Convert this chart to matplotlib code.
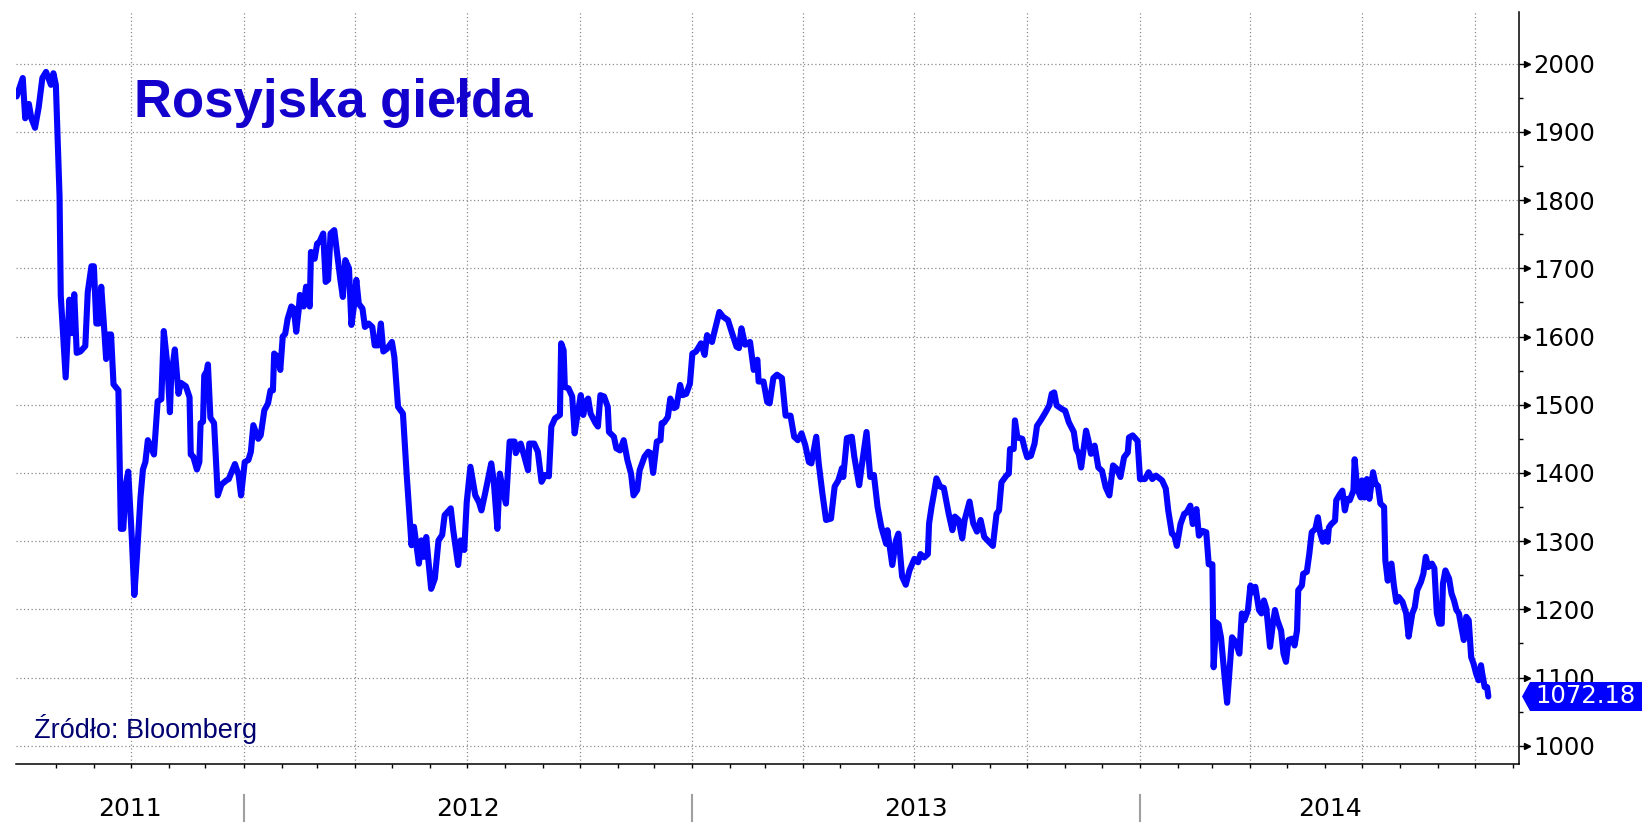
import numpy as np
import pandas as pd
import matplotlib
matplotlib.use('Agg')
import matplotlib.pyplot as plt
import matplotlib.dates as mdates
from matplotlib.patches import Polygon
from matplotlib.ticker import FixedLocator
from matplotlib.transforms import IdentityTransform, ScaledTranslation

# RTS index (month-day per year)
days_2011 = ['06-30', '07-05', '07-07', '07-10', '07-12', '07-15', '07-18', '07-21', '07-24', '07-28',
             '07-30', '08-01', '08-04', '08-05', '08-09', '08-12', '08-14', '08-16', '08-18', '08-21',
             '08-25', '08-27', '08-30', '09-01', '09-03', '09-05', '09-07', '09-09', '09-11', '09-13',
             '09-15', '09-17', '09-21', '09-23', '09-25', '09-27', '09-29', '10-02', '10-04', '10-06',
             '10-09', '10-11', '10-13', '10-15', '10-17', '10-20', '10-23', '10-26', '10-28', '10-31',
             '11-02', '11-03', '11-06', '11-09', '11-11', '11-15', '11-18', '11-19', '11-21', '11-24',
             '11-26', '11-27', '11-29', '11-30', '12-02', '12-03', '12-05', '12-08', '12-11', '12-14',
             '12-18', '12-20', '12-22', '12-25', '12-28', '12-30']
rts_2011 = [1952, 1979, 1920, 1941, 1920, 1906, 1936, 1979, 1988, 1969,
            1986, 1969, 1806, 1660, 1540, 1654, 1605, 1662, 1576, 1578,
            1586, 1665, 1703, 1703, 1619, 1619, 1673, 1622, 1567, 1603,
            1603, 1530, 1521, 1318, 1318, 1383, 1402, 1302, 1221, 1275,
            1364, 1405, 1416, 1448, 1440, 1427, 1505, 1508, 1608, 1557,
            1489, 1540, 1581, 1516, 1532, 1527, 1511, 1427, 1424, 1405,
            1416, 1473, 1475, 1543, 1549, 1559, 1481, 1473, 1367, 1383,
            1389, 1391, 1400, 1413, 1397, 1367]

days_2012 = ['01-02', '01-05', '01-07', '01-09', '01-13', '01-15', '01-18', '01-21', '01-23', '01-25',
             '01-26', '01-29', '01-31', '02-02', '02-04', '02-06', '02-09', '02-11', '02-13', '02-15',
             '02-16', '02-19', '02-21', '02-24', '02-25', '02-28', '03-01', '03-03', '03-06', '03-08',
             '03-10', '03-12', '03-15', '03-17', '03-20', '03-22', '03-24', '03-27', '03-29', '03-31',
             '04-02', '04-04', '04-07', '04-09', '04-12', '04-15', '04-17', '04-20', '04-22', '04-24',
             '04-27', '05-01', '05-03', '05-06', '05-10', '05-13', '05-17', '05-19', '05-21', '05-23',
             '05-25', '05-27', '05-29', '05-31', '06-02', '06-05', '06-08', '06-11', '06-13', '06-18',
             '06-20', '06-24', '06-26', '06-29', '07-01', '07-04', '07-08', '07-11', '07-13', '07-16',
             '07-21', '07-23', '07-26', '07-28', '07-31', '08-02', '08-05', '08-09', '08-10', '08-14',
             '08-17', '08-20', '08-21', '08-25', '08-28', '08-31', '09-03', '09-06', '09-08', '09-11',
             '09-15', '09-16', '09-18', '09-19', '09-22', '09-25', '09-27', '09-29', '10-02', '10-04',
             '10-06', '10-08', '10-10', '10-14', '10-16', '10-18', '10-21', '10-24', '10-25', '10-29',
             '10-31', '11-03', '11-06', '11-09', '11-12', '11-14', '11-17', '11-19', '11-23', '11-26',
             '11-28', '11-30', '12-03', '12-06', '12-07', '12-09', '12-12', '12-14', '12-17', '12-19',
             '12-22', '12-24', '12-27', '12-30']
rts_2012 = [1416, 1419, 1431, 1470, 1450, 1455, 1492, 1502, 1521, 1521,
            1575, 1570, 1551, 1600, 1604, 1626, 1644, 1641, 1607, 1639,
            1661, 1644, 1673, 1644, 1724, 1714, 1736, 1739, 1751, 1680,
            1683, 1751, 1756, 1727, 1683, 1658, 1712, 1700, 1617, 1644,
            1683, 1648, 1641, 1614, 1619, 1614, 1587, 1587, 1619, 1578,
            1582, 1592, 1570, 1497, 1487, 1399, 1294, 1321, 1294, 1267,
            1301, 1277, 1306, 1267, 1230, 1245, 1301, 1309, 1338, 1348,
            1316, 1265, 1301, 1287, 1357, 1409, 1367, 1357, 1345, 1370,
            1414, 1389, 1318, 1399, 1370, 1355, 1446, 1446, 1429, 1443,
            1424, 1404, 1443, 1443, 1431, 1387, 1397, 1395, 1468, 1480,
            1485, 1590, 1580, 1526, 1524, 1512, 1458, 1482, 1514, 1485,
            1504, 1509, 1487, 1473, 1468, 1514, 1512, 1497, 1460, 1453,
            1436, 1433, 1448, 1419, 1399, 1367, 1375, 1404, 1424, 1431,
            1429, 1400, 1446, 1448, 1473, 1474, 1482, 1509, 1495, 1497,
            1529, 1514, 1516, 1531]

days_2013 = ['01-01', '01-04', '01-08', '01-11', '01-13', '01-17', '01-19', '01-23', '01-26', '01-30',
             '02-02', '02-06', '02-08', '02-10', '02-13', '02-17', '02-20', '02-23', '02-24', '02-28',
             '03-03', '03-05', '03-08', '03-11', '03-15', '03-18', '03-22', '03-25', '03-28', '03-31',
             '04-03', '04-06', '04-08', '04-12', '04-14', '04-17', '04-20', '04-24', '04-27', '04-30',
             '05-03', '05-04', '05-07', '05-11', '05-13', '05-17', '05-19', '05-23', '05-26', '05-29',
             '06-01', '06-04', '06-08', '06-09', '06-13', '06-16', '06-18', '06-21', '06-24', '06-27',
             '07-01', '07-04', '07-06', '07-09', '07-12', '07-13', '07-15', '07-17', '07-19', '07-22',
             '07-25', '07-29', '08-01', '08-03', '08-06', '08-09', '08-11', '08-15', '08-18', '08-21',
             '08-24', '08-27', '09-03', '09-06', '09-08', '09-10', '09-14', '09-16', '09-17', '09-20',
             '09-21', '09-23', '09-27', '09-29', '10-01', '10-04', '10-07', '10-09', '10-12', '10-16',
             '10-19', '10-21', '10-23', '10-25', '10-29', '11-01', '11-04', '11-06', '11-08', '11-10',
             '11-12', '11-14', '11-18', '11-20', '11-22', '11-25', '11-28', '12-01', '12-04', '12-07',
             '12-10', '12-13', '12-16', '12-19', '12-22', '12-23', '12-26', '12-30']
rts_2013 = [1575, 1578, 1590, 1573, 1602, 1592, 1607, 1636, 1629, 1624,
            1607, 1585, 1583, 1612, 1588, 1592, 1551, 1566, 1534, 1534,
            1504, 1502, 1539, 1544, 1539, 1484, 1484, 1453, 1448, 1458,
            1441, 1416, 1414, 1453, 1414, 1370, 1331, 1333, 1380, 1389,
            1407, 1394, 1451, 1453, 1424, 1382, 1409, 1460, 1394, 1397,
            1350, 1321, 1296, 1316, 1265, 1301, 1311, 1248, 1236, 1257,
            1274, 1269, 1281, 1276, 1281, 1326, 1350, 1370, 1392, 1380,
            1378, 1340, 1316, 1336, 1331, 1304, 1331, 1358, 1326, 1314,
            1331, 1306, 1293, 1340, 1345, 1386, 1396, 1399, 1435, 1435,
            1477, 1452, 1450, 1435, 1423, 1425, 1443, 1469, 1477, 1489,
            1499, 1516, 1518, 1499, 1494, 1491, 1474, 1467, 1460, 1435,
            1428, 1408, 1462, 1447, 1428, 1440, 1408, 1403, 1379, 1367,
            1411, 1406, 1394, 1423, 1430, 1452, 1455, 1447]

days_2014 = ['01-01', '01-05', '01-08', '01-11', '01-14', '01-19', '01-22', '01-24', '01-27', '01-29',
             '01-31', '02-03', '02-06', '02-08', '02-11', '02-13', '02-16', '02-18', '02-21', '02-24',
             '02-26', '03-01', '03-02', '03-04', '03-06', '03-08', '03-11', '03-13', '03-17', '03-20',
             '03-23', '03-25', '03-27', '03-30', '04-01', '04-03', '04-05', '04-08', '04-10', '04-12',
             '04-14', '04-17', '04-19', '04-21', '04-23', '04-26', '04-28', '04-30', '05-02', '05-05',
             '05-07', '05-09', '05-10', '05-13', '05-14', '05-17', '05-19', '05-21', '05-24', '05-26',
             '05-28', '05-30', '06-01', '06-03', '06-04', '06-06', '06-09', '06-10', '06-13', '06-15',
             '06-17', '06-19', '06-21', '06-24', '06-25', '06-27', '06-30', '07-01', '07-03', '07-05',
             '07-07', '07-10', '07-12', '07-14', '07-16', '07-19', '07-20', '07-22', '07-23', '07-25',
             '07-27', '07-29', '07-31', '08-03', '08-06', '08-08', '08-11', '08-13', '08-15', '08-18',
             '08-20', '08-22', '08-24', '08-27', '08-29', '08-31', '09-02', '09-04', '09-05', '09-07',
             '09-10', '09-12', '09-14', '09-16', '09-18', '09-20', '09-22', '09-24', '09-26', '09-28',
             '09-30', '10-02', '10-04', '10-06', '10-07', '10-09', '10-11', '10-12']
rts_2014 = [1391, 1391, 1401, 1391, 1396, 1389, 1377, 1345, 1311, 1308,
            1293, 1325, 1340, 1342, 1352, 1325, 1347, 1308, 1315, 1313,
            1266, 1266, 1115, 1181, 1178, 1159, 1100, 1063, 1159, 1152,
            1135, 1194, 1184, 1199, 1235, 1225, 1233, 1199, 1194, 1213,
            1201, 1145, 1174, 1199, 1184, 1169, 1135, 1123, 1155, 1157,
            1147, 1169, 1228, 1235, 1252, 1255, 1281, 1313, 1318, 1335,
            1311, 1299, 1313, 1299, 1320, 1325, 1330, 1360, 1369, 1374,
            1345, 1362, 1360, 1374, 1420, 1377, 1364, 1389, 1364, 1391,
            1362, 1401, 1384, 1381, 1355, 1350, 1272, 1242, 1262, 1267,
            1235, 1211, 1218, 1211, 1194, 1160, 1194, 1203, 1228, 1240,
            1252, 1277, 1262, 1267, 1260, 1194, 1179, 1179, 1238, 1257,
            1245, 1223, 1213, 1199, 1194, 1174, 1155, 1189, 1184, 1130,
            1120, 1106, 1096, 1118, 1106, 1086, 1086, 1072.18]

years = [2011, 2012, 2013, 2014]
year_labels = ['2011', '2012', '2013', '2014']
last_label = '1072.18'
title = 'Rosyjska giełda'
source = 'Źródło: Bloomberg'

dates = pd.to_datetime([f'{y}-{d}' for y, ds in zip(years, [days_2011, days_2012, days_2013, days_2014])
                        for d in ds])
values = np.array(rts_2011 + rts_2012 + rts_2013 + rts_2014, dtype=float)

x_start = pd.Timestamp('2011-06-29 12:00')
x_end = pd.Timestamp('2014-11-06')

W, H = 1642, 822
fig = plt.figure(figsize=(W / 100, H / 100), dpi=100)
ax = fig.add_axes([16 / W, 1 - 764 / H, (1519 - 16) / W, (764 - 12) / H])

line_blue = '#0505ff'
ax.plot(dates, values, color=line_blue, lw=4.4, solid_joinstyle='round', solid_capstyle='round', zorder=3)

ax.set_xlim(x_start, x_end)
ax.set_ylim(973.2, 2075.8)

# axes styling
for side in ['left', 'top']:
    ax.spines[side].set_visible(False)
for side in ['right', 'bottom']:
    ax.spines[side].set_linewidth(1.1)
    ax.spines[side].set_color('black')

# quarter grid lines, monthly ticks (both start after the first month shown)
quarters = pd.date_range('2011-10-01', '2014-10-01', freq='QS')
months = pd.date_range('2011-08-01', '2014-11-01', freq='MS')
ax.xaxis.set_major_locator(FixedLocator(mdates.date2num(quarters)))
ax.xaxis.set_minor_locator(FixedLocator(mdates.date2num(months)))
ax.tick_params(axis='x', which='both', direction='out', length=3, width=1, colors='black',
               labelbottom=False)

ax.yaxis.tick_right()
ax.set_yticks(np.arange(1000, 2001, 100))
ax.set_yticks(np.arange(1050, 2001, 100), minor=True)
ax.tick_params(axis='y', which='major', direction='out', length=8, width=1, pad=2,
               labelsize=17.5, labelcolor='black', left=False, right=True)
ax.tick_params(axis='y', which='minor', direction='out', length=3, width=1, left=False, right=True)

# arrow heads on the major y ticks
head_tr = ax.get_yaxis_transform() + ScaledTranslation(6 / 72, 0, fig.dpi_scale_trans)
ax.plot(np.ones(11), np.arange(1000, 2001, 100), ls='none', marker='>', ms=4.5,
        color='black', transform=head_tr, clip_on=False)

ax.grid(True, which='major', color='#8c8c8c', linestyle=(0, (1, 2)), lw=0.9)
ax.set_axisbelow(True)

# year labels and separators under the axis
xt = ax.get_xaxis_transform()
edges = [x_start] + [pd.Timestamp(f'{y}-01-01') for y in years[1:]] + [x_end]
for i, lab in enumerate(year_labels):
    mid = mdates.date2num(edges[i]) + (mdates.date2num(edges[i + 1]) - mdates.date2num(edges[i])) / 2
    ax.text(mid, -0.0598, lab, transform=xt, ha='center', va='center', fontsize=18, color='black')
for y in years[1:]:
    d = pd.Timestamp(f'{y}-01-01')
    ax.plot([d, d], [-0.041, -0.08], transform=xt, color='#a0a0a0', lw=1.5, clip_on=False)

# title and source
fig.text(134 / W, 1 - 117 / H, title, family='Liberation Sans', fontweight='bold',
         fontsize=38, color='#1400cc', va='baseline', ha='left')
fig.text(34 / W, 1 - 738 / H, source, family='Liberation Sans', fontsize=19.5,
         color='#000070', va='baseline', ha='left')

# last value flag on the right axis
tip_x, tip_y = ax.get_yaxis_transform().transform((1.0, values[-1]))
half = 14.5
flag = Polygon([(tip_x + 3, tip_y), (tip_x + 11, tip_y + half), (W + 5, tip_y + half),
                (W + 5, tip_y - half), (tip_x + 11, tip_y - half)],
               closed=True, facecolor='#0000ff', edgecolor='none',
               transform=IdentityTransform(), zorder=5)
fig.add_artist(flag)
fig.text((tip_x + 16) / W, tip_y / H, last_label, color='white', fontsize=17.5,
         ha='left', va='center', zorder=6)

fig.savefig('out.png', dpi=100)
